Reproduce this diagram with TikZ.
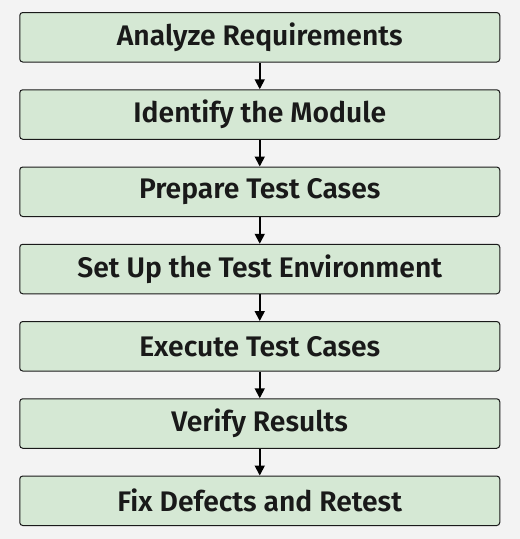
\documentclass[tikz,border=0pt]{standalone}
\usepackage{fontspec}
\setmainfont{Fira Sans}
\newfontfamily\semib{Fira Sans SemiBold}
\usetikzlibrary{arrows.meta}
\definecolor{bg}{HTML}{F3F3F3}
\definecolor{boxfill}{HTML}{D5E8D4}
\definecolor{boxline}{HTML}{1A1A1A}
\tikzset{
  stepbox/.style={draw=boxline, fill=boxfill, line width=1pt, rounded corners=3pt,
    minimum width=480pt, minimum height=49.5pt, inner sep=0pt,
    font=\fontsize{28.3}{33}\semib, text=black!90},
  flow/.style={draw=black, line width=1.8pt, -{Triangle[width=10pt,length=10pt]}}
}
\begin{document}
\begin{tikzpicture}[x=1pt,y=-1pt]
\fill[bg] (0,0) rectangle (520,539);
\useasboundingbox (0,0) rectangle (520,539);
\node[stepbox] (a) at (259.75,37.25) {Analyze Requirements};
\node[stepbox] (b) at (259.75,114.5) {Identify the Module};
\node[stepbox] (c) at (259.75,191.75) {Prepare Test Cases};
\node[stepbox] (d) at (259.75,269) {Set Up the Test Environment};
\node[stepbox] (e) at (259.75,346.25) {Execute Test Cases};
\node[stepbox] (f) at (259.75,423.5) {Verify Results};
\node[stepbox] (g) at (259.75,500.75) {Fix Defects and Retest};
\foreach \u/\v in {a/b,b/c,c/d,d/e,e/f,f/g}
  \draw[flow] (\u) -- (\v);
\end{tikzpicture}
\end{document}
